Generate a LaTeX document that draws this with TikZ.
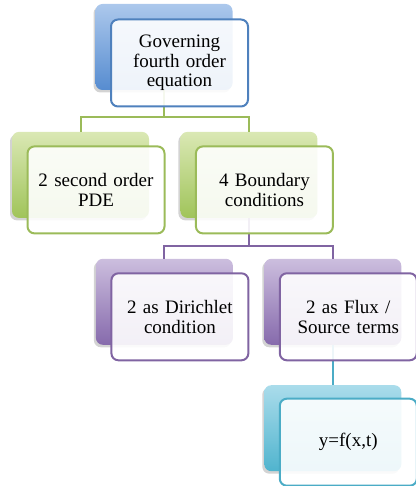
\documentclass[tikz,border=0pt]{standalone}
\usepackage{fontspec}
\setmainfont{Liberation Serif}
\usetikzlibrary{positioning,shadows}
\definecolor{BlueLine}{RGB}{79,129,189}
\definecolor{BlueTop}{RGB}{172,200,236}
\definecolor{BlueBot}{RGB}{86,140,208}
\definecolor{GreenLine}{RGB}{155,187,89}
\definecolor{GreenTop}{RGB}{218,232,180}
\definecolor{GreenBot}{RGB}{160,196,90}
\definecolor{PurpleLine}{RGB}{128,100,162}
\definecolor{PurpleTop}{RGB}{204,190,222}
\definecolor{PurpleBot}{RGB}{134,106,172}
\definecolor{CyanLine}{RGB}{75,172,198}
\definecolor{CyanTop}{RGB}{170,220,235}
\definecolor{CyanBot}{RGB}{80,180,206}

\begin{document}
\begin{tikzpicture}[
    x=1pt, y=-1pt,
    back/.style n args={2}{rounded corners=7pt, top color=#1, bottom color=#2,
      minimum width=137pt, minimum height=86pt, inner sep=0pt,
      drop shadow={shadow xshift=-2pt, shadow yshift=-2.5pt, opacity=0.35}},
    front/.style={draw=#1, line width=2pt, rounded corners=7pt, fill=white,
      fill opacity=0.9, text opacity=1, align=center, text width=134pt,
      minimum width=137pt, minimum height=87pt, inner sep=0pt,
      font=\fontsize{19}{19.5}\selectfont},
    con/.style={draw=#1, line width=2pt}
  ]
    \useasboundingbox (0,0) rectangle (415,486);
    % back boxes
    \node[back={BlueTop}{BlueBot}] (govB) at (164,47) {};
    \node[back={GreenTop}{GreenBot}, below=41.5pt of govB, xshift=-83.5pt] (pdeB) {};
    \node[back={GreenTop}{GreenBot}, right=31pt of pdeB] (bcB) {};
    \node[back={PurpleTop}{PurpleBot}, below=40.5pt of bcB, xshift=-84.5pt] (dirB) {};
    \node[back={PurpleTop}{PurpleBot}, right=31pt of dirB] (fluxB) {};
    \node[back={CyanTop}{CyanBot}, below=40pt of fluxB] (solB) {};
    % connectors
    \draw[con=GreenLine] (govB.south) -- ++(0,27) -| (pdeB.north);
    \draw[con=GreenLine] (govB.south) -- ++(0,27) -| (bcB.north);
    \draw[con=PurpleLine] (bcB.south) -- ++(0,28) -| (dirB.north);
    \draw[con=PurpleLine] (bcB.south) -- ++(0,28) -| (fluxB.north);
    \draw[con=CyanLine] (fluxB.south) -- (solB.north);
    % front boxes
    \node[front=BlueLine] (gov) at ([shift={(15.5,16)}]govB) {Governing\\fourth order\\equation};
    \node[front=GreenLine] (pde) at ([shift={(15.5,15)}]pdeB) {2 second order\\PDE};
    \node[front=GreenLine] (bc) at ([shift={(15.5,15)}]bcB) {4 Boundary\\conditions};
    \node[front=PurpleLine] (dir) at ([shift={(15.5,15)}]dirB) {2 as Dirichlet\\condition};
    \node[front=PurpleLine] (flux) at ([shift={(15.5,15)}]fluxB) {2 as Flux /\\Source terms};
    \node[front=CyanLine] (sol) at ([shift={(15.5,14)}]solB) {\raisebox{-6pt}{y=f(x,t)}};
  \end{tikzpicture}
\end{document}
